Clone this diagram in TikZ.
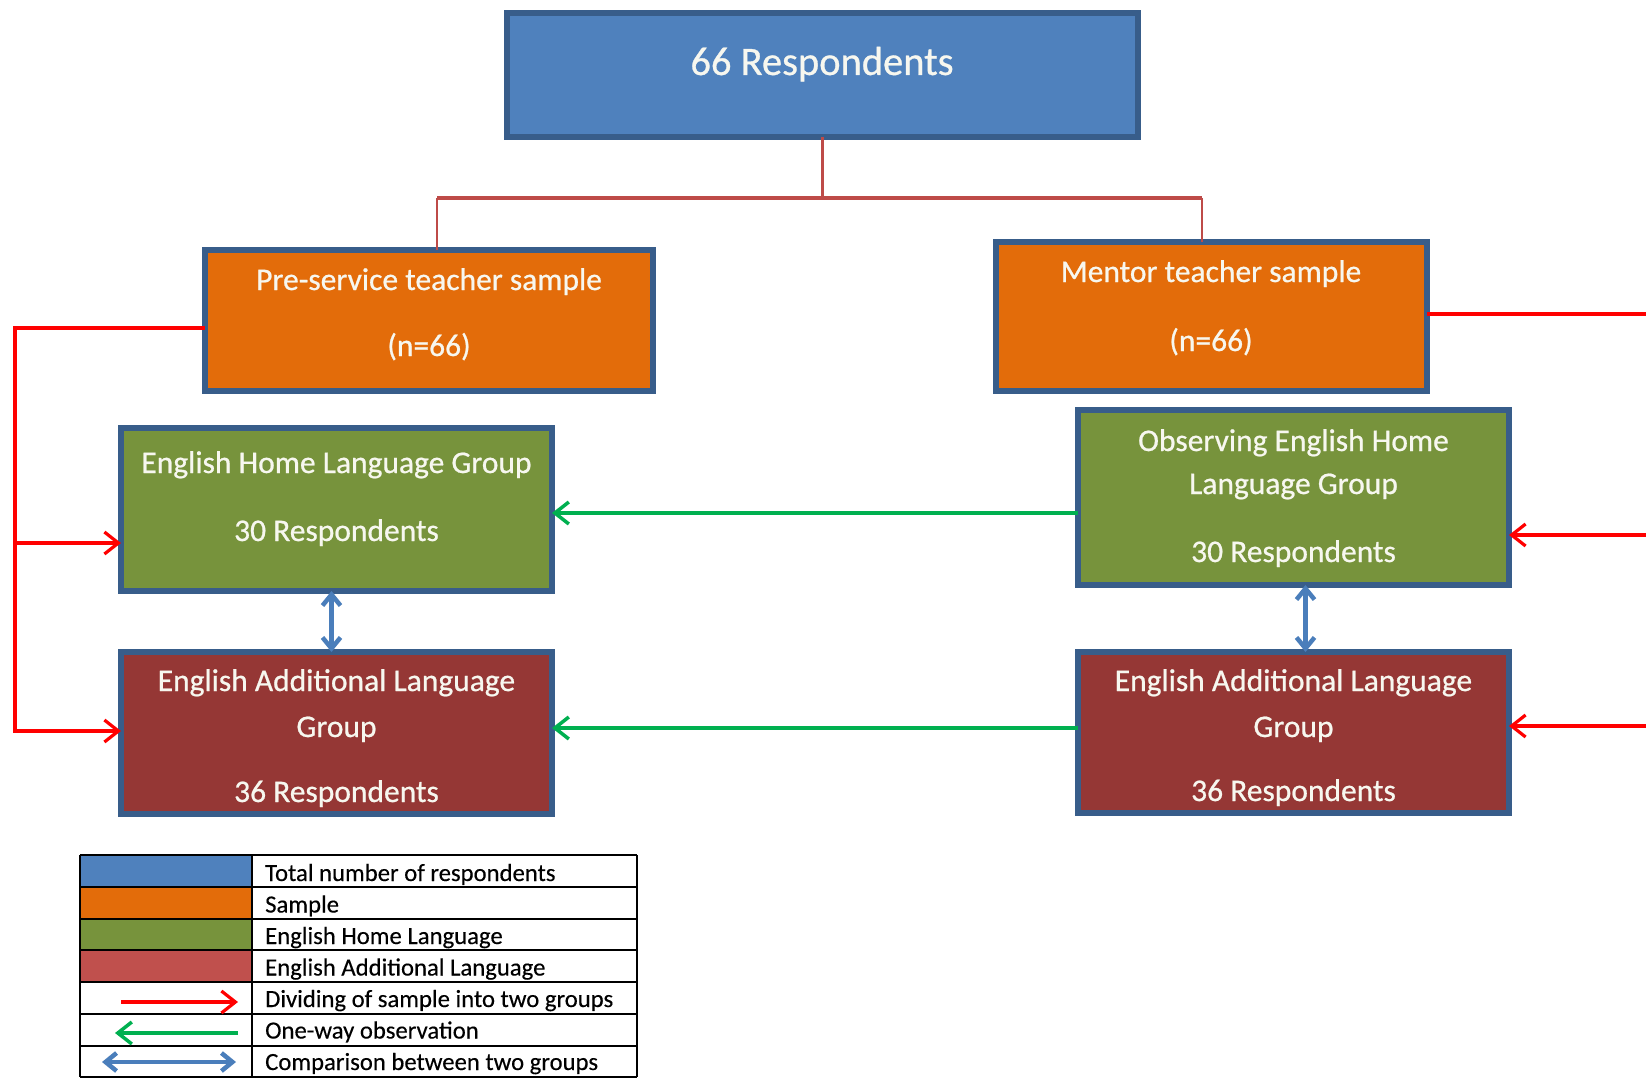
\documentclass[tikz,border=0pt]{standalone}
\usepackage{fontspec}
\setmainfont{Carlito}
\newfontfamily\boxfont[FakeBold=0.7]{Carlito}
\newfontfamily\legfont[FakeBold=0.3]{Carlito}
\usetikzlibrary{arrows.meta,calc}
\definecolor{bord}{HTML}{385D8A}
\definecolor{cblue}{HTML}{4F81BD}
\definecolor{corange}{HTML}{E36C0A}
\definecolor{cgreen}{HTML}{77933C}
\definecolor{cdred}{HTML}{953735}
\definecolor{clred}{HTML}{C0504D}
\definecolor{cconn}{HTML}{BE4B48}
\definecolor{cgreenl}{HTML}{00B050}
\definecolor{cbluel}{HTML}{4A7EBB}
\definecolor{ctxt}{HTML}{F7F7EF}
\begin{document}
\begin{tikzpicture}[x=1pt,y=-1pt,
  box/.style={draw=bord, line width=6pt, inner sep=0pt, outer sep=0pt},
  boxtxt/.style={text=ctxt, font=\boxfont\fontsize{31.5}{36}\selectfont, anchor=base, inner sep=0pt},
  bigtxt/.style={text=ctxt, font=\boxfont\fontsize{40.5}{46}\selectfont, anchor=base, inner sep=0pt},
  legtxt/.style={text=black, font=\legfont\fontsize{24.7}{28}\selectfont, anchor=base west, inner sep=0pt},
  conn/.style={draw=cconn, line width=2.5pt},
  redl/.style={draw=red, line width=3.2pt},
  greenl/.style={draw=cgreenl, line width=3.5pt},
  bluel/.style={draw=cbluel, line width=4.5pt},
  grid/.style={draw=black, line width=2pt},
  >={Straight Barb[length=14pt,width=22pt]}
]
\useasboundingbox[fill=white] (0,0) rectangle (1646,1078);

% boxes
\node[box, fill=cblue, minimum width=631pt, minimum height=124pt] (top) at (822.5,75) {};
\node[box, fill=corange, minimum width=448pt, minimum height=141pt] (pre) at (429,320.5) {};
\node[box, fill=corange, minimum width=431pt, minimum height=149pt] (men) at (1211.5,316.5) {};
\node[box, fill=cgreen, minimum width=431pt, minimum height=163pt] (ehl) at (336.5,509.5) {};
\node[box, fill=cdred, minimum width=431pt, minimum height=162pt] (eal) at (336.5,733) {};
\node[box, fill=cgreen, minimum width=431pt, minimum height=175pt] (oehl) at (1293.5,497.5) {};
\node[box, fill=cdred, minimum width=431pt, minimum height=161pt] (ealr) at (1293.5,732.5) {};

% texts
\node[bigtxt] (t0) at (822,75) {66 Respondents};
\node[boxtxt] (t1) at (429,290) {Pre-service teacher sample};
\node[boxtxt] (t2) at (429,356) {(n=66)};
\node[boxtxt] (t3) at (1211,282) {Mentor teacher sample};
\node[boxtxt] (t4) at (1211,351) {(n=66)};
\node[boxtxt] (t5) at (336.5,473) {English Home Language Group};
\node[boxtxt] (t6) at (336.5,541) {30 Respondents};
\node[boxtxt] (t7) at (336.5,691) {English Additional Language};
\node[boxtxt] (t8) at (336.5,737) {Group};
\node[boxtxt] (t9) at (336.5,802) {36 Respondents};
\node[boxtxt] (t10) at (1293.5,451) {Observing English Home};
\node[boxtxt] (t11) at (1293.5,494) {Language Group};
\node[boxtxt] (t12) at (1293.5,562) {30 Respondents};
\node[boxtxt] (t13) at (1293.5,691) {English Additional Language};
\node[boxtxt] (t14) at (1293.5,737) {Group};
\node[boxtxt] (t15) at (1293.5,801) {36 Respondents};

% top connector
\coordinate (hl) at (437,198);
\coordinate (hr) at (1202,198);
\draw[conn] (top.south) -- (top.south |- hl);
\draw[conn, line width=3.5pt] (hl) -- (hr);
\draw[conn] (hl) -- (hl |- pre.north);
\draw[conn] (hr) -- (hr |- men.north);

% red dividing lines, left
\coordinate (yl) at (15,328);
\coordinate (ya) at (15,543);
\coordinate (yb) at (15,731);
\draw[redl, ->] (pre.west |- yl) -- (yl) -- (yb) -- (eal.west |- yb);
\draw[redl, ->] (ya) -- (ehl.west |- ya);

% red dividing lines, right
\coordinate (rr1) at (1646,314);
\coordinate (rr2) at (1646,535);
\coordinate (rr3) at (1646,726);
\draw[redl] (men.east |- rr1) -- (rr1);
\draw[redl, ->] (rr2) -- (oehl.east |- rr2);
\draw[redl, ->] (rr3) -- (ealr.east |- rr3);

% green observation
\coordinate (g1) at (0,513);
\coordinate (g2) at (0,728);
\draw[greenl, ->] (oehl.west |- g1) -- (ehl.east |- g1);
\draw[greenl, ->] (ealr.west |- g2) -- (eal.east |- g2);

% blue comparison
\draw[bluel, {Straight Barb[length=11pt,width=18pt]}-{Straight Barb[length=11pt,width=18pt]}] ([xshift=-5pt]ehl.south) -- ([xshift=-5pt]eal.north);
\draw[bluel, {Straight Barb[length=11pt,width=18pt]}-{Straight Barb[length=11pt,width=18pt]}] ([xshift=12pt]oehl.south) -- ([xshift=12pt]ealr.north);

% legend
\fill[cblue] (80,855) rectangle (252,886.75);
\fill[corange] (80,886.75) rectangle (252,918.5);
\fill[cgreen] (80,918.5) rectangle (252,950.25);
\fill[clred] (80,950.25) rectangle (252,982);
\foreach \yy in {855,886.75,918.5,950.25,982,1013.75,1045.5,1077}
  \draw[grid] (80,\yy) -- (637,\yy);
\draw[grid] (80,855) -- (80,1077);
\draw[grid] (252,855) -- (252,1077);
\draw[grid] (637,855) -- (637,1077);

\coordinate (la1) at (121,1002);
\coordinate (lb1) at (238,1002);
\coordinate (la2) at (238,1033);
\coordinate (lb2) at (115,1033);
\coordinate (la3) at (102,1062);
\coordinate (lb3) at (236,1062);
\draw[redl, ->] (la1) -- (lb1);
\draw[greenl, ->] (la2) -- (lb2);
\draw[bluel, {Straight Barb[length=11pt,width=18pt]}-{Straight Barb[length=11pt,width=18pt]}] (la3) -- (lb3);

\node[legtxt] (l1) at (265,881) {Total number of respondents};
\node[legtxt] (l2) at (265,912.5) {Sample};
\node[legtxt] (l3) at (265,944) {English Home Language};
\node[legtxt] (l4) at (265,975.5) {English Additional Language};
\node[legtxt] (l5) at (265,1007) {Dividing of sample into two groups};
\node[legtxt] (l6) at (265,1038.5) {One-way observation};
\node[legtxt] (l7) at (265,1070) {Comparison between two groups};
\end{tikzpicture}
\end{document}
